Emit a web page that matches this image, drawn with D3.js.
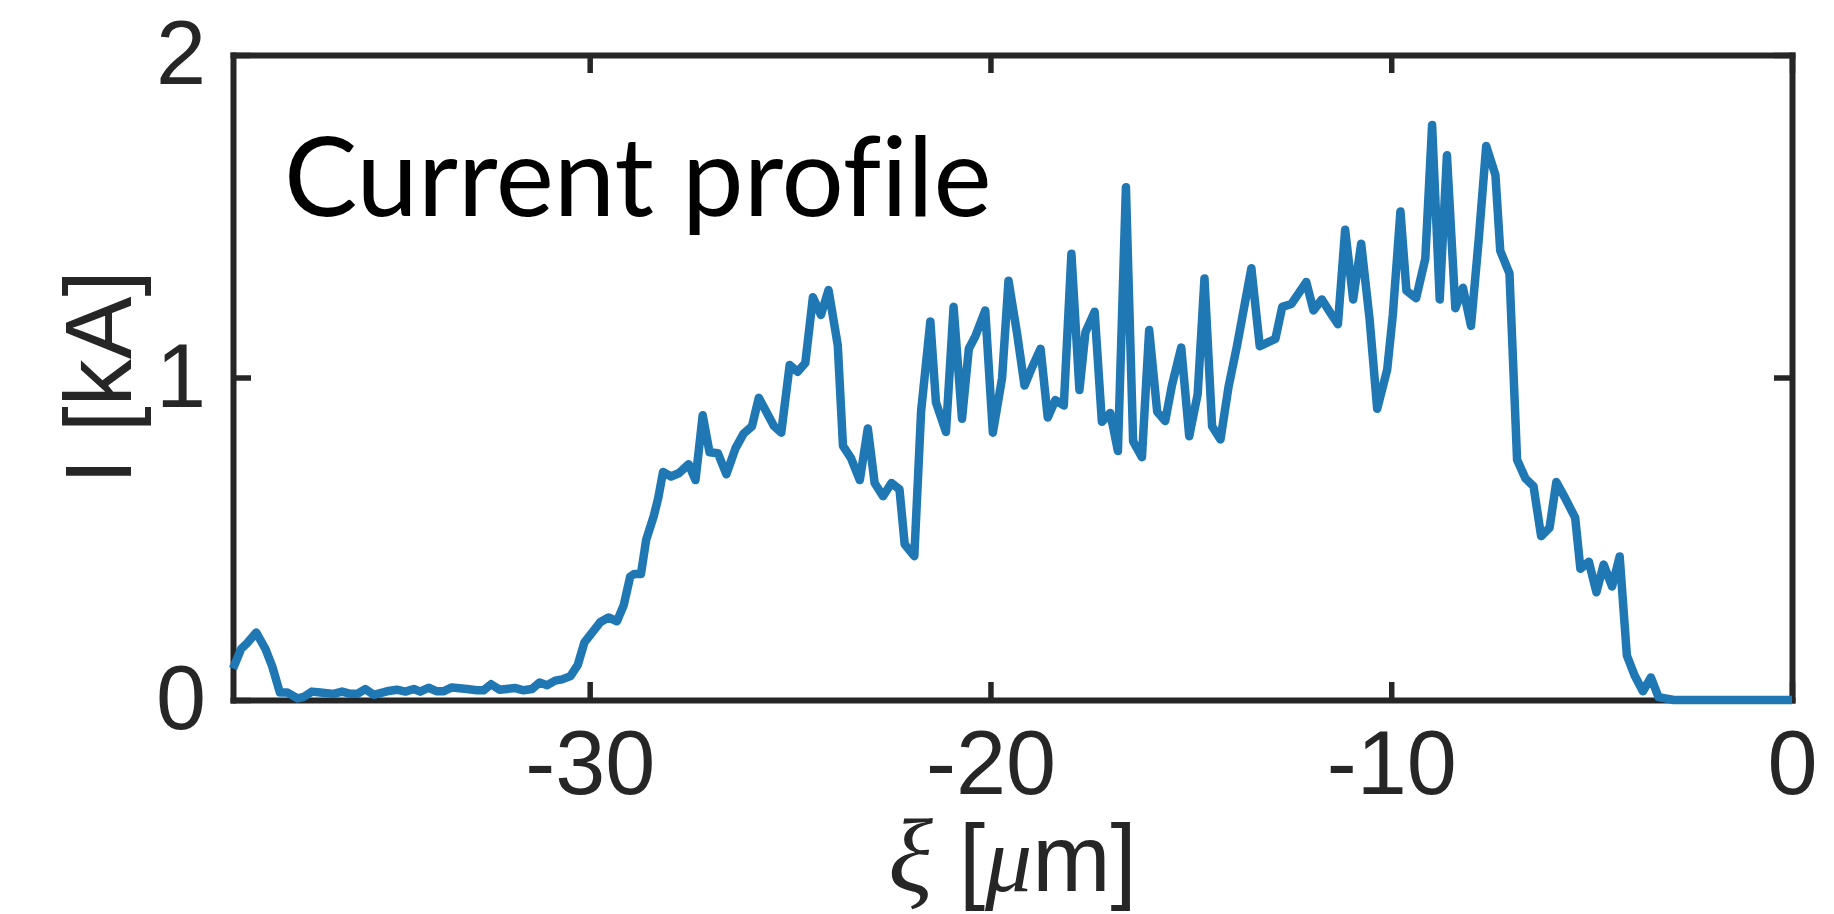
<!DOCTYPE html>
<html>
<head>
<meta charset="utf-8">
<script src="https://cdn.jsdelivr.net/npm/d3@7"></script>
<style>
  html, body { margin: 0; padding: 0; background: #fff; }
  svg { display: block; }
</style>
</head>
<body>
<svg id="chart" width="1834" height="914"></svg>
<script>
// Longitudinal position along the bunch, xi [um]
const xi = [
  -38.90, -38.70, -38.55, -38.32, -38.09, -37.92, -37.73, -37.54, -37.29, -37.13,
  -36.93, -36.72, -36.39, -36.18, -35.97, -35.80, -35.60, -35.39, -35.06, -34.81,
  -34.60, -34.39, -34.23, -34.02, -33.81, -33.65, -33.44, -33.06, -32.81, -32.65,
  -32.46, -32.25, -31.85, -31.65, -31.44, -31.25, -31.06, -30.86, -30.69, -30.48,
  -30.30, -30.13, -29.94, -29.73, -29.53, -29.32, -29.15, -28.99, -28.89, -28.72,
  -28.59, -28.40, -28.29, -28.17, -27.97, -27.78, -27.53, -27.36, -27.18, -27.01,
  -26.80, -26.59, -26.36, -26.16, -25.95, -25.78, -25.40, -25.22, -25.01, -24.81,
  -24.62, -24.43, -24.23, -24.04, -23.81, -23.68, -23.48, -23.26, -23.06, -22.89,
  -22.68, -22.47, -22.27, -22.14, -21.90, -21.73, -21.50, -21.36, -21.11, -20.92,
  -20.71, -20.54, -20.38, -20.13, -19.94, -19.71, -19.55, -19.34, -19.15, -18.96,
  -18.75, -18.57, -18.38, -18.17, -17.98, -17.78, -17.63, -17.40, -17.22, -17.01,
  -16.82, -16.62, -16.44, -16.22, -16.04, -15.84, -15.64, -15.47, -15.24, -15.04,
  -14.83, -14.66, -14.47, -14.26, -14.06, -13.85, -13.49, -13.28, -13.08, -12.89,
  -12.72, -12.49, -12.12, -11.94, -11.73, -11.52, -11.33, -11.15, -10.95, -10.75,
  -10.54, -10.35, -10.10, -9.96, -9.77, -9.62, -9.38, -9.15, -8.98, -8.79,
  -8.61, -8.40, -8.21, -8.01, -7.82, -7.63, -7.40, -7.28, -7.05, -6.86,
  -6.65, -6.45, -6.26, -6.05, -5.88, -5.66, -5.41, -5.28, -5.07, -4.88,
  -4.70, -4.49, -4.30, -4.12, -3.93, -3.72, -3.52, -3.33, -2.95, 0.00
];

// Beam current, I [kA]
const current = [
  0.097, 0.158, 0.176, 0.209, 0.158, 0.104, 0.023, 0.023, 0.005, 0.010,
  0.026, 0.023, 0.019, 0.026, 0.019, 0.019, 0.034, 0.016, 0.027, 0.032,
  0.026, 0.034, 0.026, 0.038, 0.027, 0.027, 0.039, 0.034, 0.030, 0.030,
  0.049, 0.032, 0.037, 0.030, 0.034, 0.054, 0.046, 0.060, 0.064, 0.074,
  0.108, 0.179, 0.209, 0.242, 0.256, 0.244, 0.294, 0.382, 0.391, 0.391,
  0.497, 0.571, 0.626, 0.707, 0.693, 0.703, 0.731, 0.682, 0.883, 0.768,
  0.765, 0.700, 0.781, 0.826, 0.849, 0.937, 0.849, 0.829, 1.039, 1.018,
  1.045, 1.249, 1.194, 1.271, 1.100, 0.788, 0.750, 0.682, 0.842, 0.673,
  0.632, 0.673, 0.653, 0.483, 0.446, 0.896, 1.174, 0.923, 0.831, 1.219,
  0.872, 1.089, 1.127, 1.208, 0.829, 0.998, 1.300, 1.140, 0.975, 1.032,
  1.089, 0.876, 0.930, 0.913, 1.384, 0.961, 1.140, 1.204, 0.863, 0.890,
  0.772, 1.590, 0.802, 0.753, 1.147, 0.894, 0.865, 0.977, 1.093, 0.818,
  0.948, 1.307, 0.849, 0.808, 0.971, 1.097, 1.339, 1.097, 1.109, 1.120,
  1.219, 1.228, 1.296, 1.208, 1.242, 1.201, 1.165, 1.458, 1.242, 1.415,
  1.181, 0.903, 1.025, 1.194, 1.515, 1.269, 1.246, 1.368, 1.783, 1.242,
  1.689, 1.215, 1.278, 1.160, 1.424, 1.718, 1.628, 1.393, 1.323, 0.745,
  0.687, 0.663, 0.508, 0.534, 0.676, 0.626, 0.565, 0.407, 0.429, 0.334,
  0.420, 0.352, 0.445, 0.138, 0.077, 0.027, 0.070, 0.009, 0.000, 0.000
];

const xTicks = [-30, -20, -10, 0];
const yTicks = [0, 1, 2];
const xDomain = [-38.9, 0];
const yDomain = [0, 2];

const titleText = "Current profile";

const W = 1834, H = 914;
const margin = { left: 233, right: 42, top: 55, bottom: 214 };
const plotW = W - margin.left - margin.right;
const plotH = H - margin.top - margin.bottom;

const axisColor = "#262626";
const lineColor = "#1f77b4";
const tickFont = "'Liberation Sans', Arial, Helvetica, sans-serif";
const tickSize = 90;
const tickLen = 18;
// plain hyphen for negative tick labels
const fmt = d => String(d);

const svg = d3.select("#chart");
const g = svg.append("g").attr("transform", `translate(${margin.left},${margin.top})`);

const x = d3.scaleLinear().domain(xDomain).range([0, plotW]);
const y = d3.scaleLinear().domain(yDomain).range([plotH, 0]);

function styleAxis(sel, showLabels) {
  sel.attr("font-family", tickFont).attr("font-size", tickSize);
  sel.select(".domain")
    .attr("stroke", axisColor)
    .attr("stroke-width", 6)
    .attr("stroke-linecap", "square");
  sel.selectAll(".tick line")
    .attr("stroke", axisColor)
    .attr("stroke-width", 5.5);
  sel.selectAll(".tick text")
    .attr("fill", axisColor)
    .style("display", showLabels ? null : "none");
}

// bottom axis with labels
g.append("g")
  .attr("transform", `translate(0,${plotH})`)
  .call(d3.axisBottom(x).tickValues(xTicks).tickFormat(fmt)
    .tickSize(-tickLen).tickSizeOuter(0).tickPadding(30))
  .call(s => styleAxis(s, true));

// top axis (mirror ticks)
g.append("g")
  .call(d3.axisTop(x).tickValues(xTicks).tickSize(-tickLen).tickSizeOuter(0))
  .call(s => styleAxis(s, false));

// left axis with labels
g.append("g")
  .call(d3.axisLeft(y).tickValues(yTicks).tickFormat(fmt)
    .tickSize(-tickLen).tickSizeOuter(0).tickPadding(27))
  .call(s => styleAxis(s, true));

// right axis (mirror ticks)
g.append("g")
  .attr("transform", `translate(${plotW},0)`)
  .call(d3.axisRight(y).tickValues(yTicks).tickSize(-tickLen).tickSizeOuter(0))
  .call(s => styleAxis(s, false));

// current profile curve
const pts = xi.map((v, i) => [v, current[i]]);
const line = d3.line().x(d => x(d[0])).y(d => y(d[1]));
g.append("path")
  .datum(pts)
  .attr("d", line)
  .attr("fill", "none")
  .attr("stroke", lineColor)
  .attr("stroke-width", 8.5)
  .attr("stroke-linejoin", "round")
  .attr("stroke-linecap", "butt");

// title inside the axes
g.append("text")
  .attr("x", 51)
  .attr("y", 161)
  .attr("font-family", "Lato, 'Noto Sans', sans-serif")
  .attr("font-size", 110)
  .attr("fill", "#000")
  .style("font-variant-ligatures", "none")
  .style("font-feature-settings", "'liga' 0")
  .text(titleText);

// x label: xi [um]
const xl = svg.append("text")
  .attr("x", margin.left + plotW / 2)
  .attr("y", 891)
  .attr("text-anchor", "middle")
  .attr("font-family", tickFont)
  .attr("font-size", 94)
  .attr("fill", axisColor);
xl.append("tspan")
  .attr("font-family", "'Liberation Serif', 'DejaVu Serif', serif")
  .attr("font-style", "italic")
  .attr("font-size", 104)
  .text("\u03BE");
xl.append("tspan").text(" [");
xl.append("tspan")
  .attr("font-family", "'Liberation Serif', 'DejaVu Serif', serif")
  .attr("font-style", "italic")
  .text("\u03BC");
xl.append("tspan").text("m]");

// y label: I [kA]
svg.append("text")
  .attr("transform", `translate(131,${margin.top + plotH / 2}) rotate(-90)`)
  .attr("text-anchor", "middle")
  .attr("font-family", tickFont)
  .attr("font-size", 94)
  .attr("fill", axisColor)
  .text("I [kA]");
</script>
</body>
</html>
